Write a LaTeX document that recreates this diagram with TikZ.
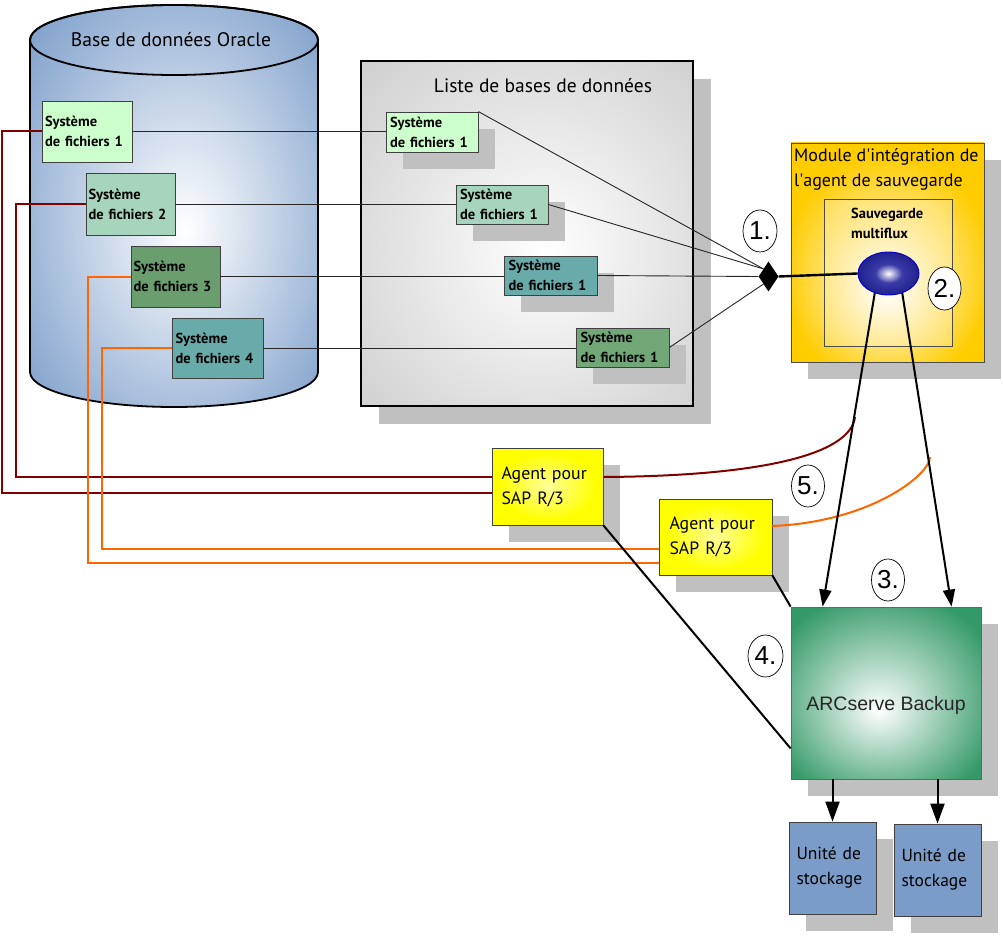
\documentclass[tikz,border=0pt]{standalone}
\usepackage{fontspec}
\setmainfont{PT Sans}
\newfontfamily\arialf{Liberation Sans}
\usetikzlibrary{shapes.geometric,shadows,calc,arrows.meta}
\definecolor{cylblue}{HTML}{7A9CC9}
\definecolor{listgray}{HTML}{C8C8C8}
\definecolor{shadowgray}{HTML}{C0C0C0}
\definecolor{modyel}{HTML}{FFCC00}
\definecolor{arcgreen}{HTML}{339966}
\definecolor{ballblue}{HTML}{10107A}
\definecolor{ballmid}{HTML}{3A3AA8}
\definecolor{fsA}{HTML}{CCFFCC}
\definecolor{fsB}{HTML}{A6D4BC}
\definecolor{fsC}{HTML}{6A9E6E}
\definecolor{fsD}{HTML}{69AAAA}
\definecolor{fsE}{HTML}{72A878}
\definecolor{darkred}{HTML}{800000}
\definecolor{orng}{HTML}{FF6600}
\definecolor{stblue}{HTML}{7B9CC8}
\definecolor{agcenter}{HTML}{FFFF99}
\pgfdeclareradialshading{cylsh}{\pgfpoint{2bp}{-3bp}}{color(0bp)=(white); color(36bp)=(cylblue); color(50bp)=(cylblue)}
\pgfdeclareradialshading{listsh}{\pgfpoint{3bp}{-3bp}}{color(0bp)=(white); color(42bp)=(listgray); color(50bp)=(listgray)}
\pgfdeclareradialshading{modsh}{\pgfpoint{0bp}{-9bp}}{color(0bp)=(white); color(27bp)=(modyel); color(50bp)=(modyel)}
\pgfdeclareradialshading{arcsh}{\pgfpoint{-2bp}{-5bp}}{color(0bp)=(white); color(32bp)=(arcgreen); color(50bp)=(arcgreen)}
\pgfdeclareradialshading{ballsh}{\pgfpoint{0bp}{0bp}}{color(0bp)=(white); color(11bp)=(ballmid); color(36bp)=(ballblue); color(50bp)=(ballblue)}
\pgfdeclareradialshading{agsh}{\pgfpoint{0bp}{0bp}}{color(0bp)=(agcenter); color(22bp)=(yellow); color(50bp)=(yellow)}
\newcommand\myfsfont{\fontsize{14.5}{20}\selectfont\bfseries}
\tikzset{
  shd/.style={drop shadow={shadow xshift=#1, shadow yshift=-#1, fill=shadowgray, draw=none, opacity=1}},
  shd/.default=17pt,
  fsbox/.style={draw=black!75, line width=0.8pt, font=\myfsfont, align=left, text width=84pt, inner xsep=2pt, inner ysep=0pt},
  agentbox/.style={draw=black!75, line width=0.8pt, shading=agsh, shd, font=\fontsize{17.8}{25}\selectfont, align=left, text width=92pt, inner xsep=0pt, inner ysep=0pt},
  stbox/.style={draw=black!75, line width=0.8pt, fill=stblue, shd, font=\fontsize{17.5}{25}\selectfont, align=left, text width=72pt, inner xsep=0pt, inner ysep=0pt, minimum width=87, minimum height=92},
  numc/.style={ellipse, draw=black, line width=0.7pt, fill=white, minimum width=34, minimum height=42, inner sep=0pt, font=\arialf\fontsize{26}{26}\selectfont},
  thinl/.style={draw=black!85, line width=0.9pt},
  redl/.style={draw=darkred, line width=2pt},
  orl/.style={draw=orng, line width=2pt},
  blk/.style={draw=black, line width=2pt},
  arr/.style={draw=black, line width=2pt, -{Triangle[width=12pt,length=17pt]}},
  arrb/.style={draw=black, line width=2pt, -{Triangle[width=14pt,length=20pt]}},
}
\begin{document}
\begin{tikzpicture}[x=1pt,y=-1pt]
\useasboundingbox (0,0) rectangle (1003,936);
% Oracle cylinder
\shade[shading=cylsh] (30,40) -- (30,372) arc[start angle=180, end angle=0, x radius=144, y radius=35] -- (318,40) arc[start angle=0, end angle=-180, x radius=144, y radius=35] -- cycle;
\draw[line width=1.8pt] (30,40) -- (30,372) arc[start angle=180, end angle=0, x radius=144, y radius=35] -- (318,40) arc[start angle=0, end angle=-180, x radius=144, y radius=35] -- cycle;
\draw[line width=1.8pt] (174,40) ellipse[x radius=144, y radius=35];
\node[font=\fontsize{19.6}{22}\selectfont] (cyltitle) at (171,40) {Base de données Oracle};
\node[fsbox, fill=fsA, minimum width=90, minimum height=61] (cfs1) at (87,131.5) {Système\\de fichiers 1};
\node[fsbox, fill=fsB, minimum width=89, minimum height=62] (cfs2) at (130.5,204) {Système\\de fichiers 2};
\node[fsbox, fill=fsC, minimum width=89, minimum height=61] (cfs3) at (175.5,276.5) {Système\\de fichiers 3};
\node[fsbox, fill=fsD, minimum width=91, minimum height=60] (cfs4) at (217.5,348) {Système\\de fichiers 4};
% database list
\node[draw=black, line width=2.2pt, shading=listsh, shd=18pt, minimum width=332, minimum height=345] (lst) at (527,233.5) {};
\node[font=\fontsize{19.5}{22}\selectfont] (lsttitle) at (543,86) {Liste de bases de données};
\node[fsbox, fill=fsA, shd, minimum width=92, minimum height=40] (lfs1) at (432,132) {Système\\de fichiers 1};
\node[fsbox, fill=fsB, shd, minimum width=92, minimum height=39] (lfs2) at (502,204.5) {Système\\de fichiers 1};
\node[fsbox, fill=fsD, shd, minimum width=93, minimum height=39] (lfs3) at (550.5,275.5) {Système\\de fichiers 1};
\node[fsbox, fill=fsE, shd, minimum width=93, minimum height=39] (lfs4) at (622.5,347.5) {Système\\de fichiers 1};
% module
\node[draw=black!70, line width=0.8pt, shading=modsh, shd, minimum width=193, minimum height=219] (mod) at (887.5,252.5) {};
\node[anchor=north west, font=\fontsize{18}{25}\selectfont, align=left, inner sep=0pt] (modt) at (794,148) {Module d\textquotesingle intégration de\\l\textquotesingle agent de sauvegarde};
\node[draw=black!70, line width=0.8pt, fill=white, fill opacity=0.25, minimum width=128, minimum height=147] (inner) at (888,272.5) {};
\node[anchor=north west, font=\myfsfont, align=left, inner sep=0pt] (mft) at (851,208) {Sauvegarde\\multiflux};
\node[ellipse, draw=blue!80!black, line width=0.9pt, shading=ballsh, minimum width=61, minimum height=43, inner sep=0pt] (ball) at (888.5,273.5) {};
% connectors file systems
\draw[thinl] (cfs1.east) -- (cfs1.east -| lfs1.west);
\draw[thinl] (cfs2.east) -- (cfs2.east -| lfs2.west);
\draw[thinl] (cfs3.east) -- (cfs3.east -| lfs3.west);
\draw[thinl] (cfs4.east) -- (cfs4.east -| lfs4.west);
\node[diamond, fill=black, minimum width=20, minimum height=30, inner sep=0pt] (jn) at (768.5,276.5) {};
\draw[thinl] (lfs1.north east) -- (jn.north west);
\draw[thinl] (lfs2.east) -- (jn.north west);
\draw[thinl] (lfs3.east) -- (jn.west);
\draw[thinl] (lfs4.east) -- (jn.south west);
\draw[line width=2.4pt] (jn.east) -- (ball.west);
% agents, ARCserve, storage
\node[agentbox, minimum width=111, minimum height=77] (ag1) at (547.5,486.5) {Agent pour\\SAP R/3};
\node[agentbox, minimum width=113, minimum height=76] (ag2) at (715.5,537) {Agent pour\\SAP R/3};
\node[draw=black!60, line width=0.8pt, shading=arcsh, shd, minimum width=190, minimum height=172] (arc) at (886,693) {};
\node[font=\arialf\fontsize{19.5}{22}\selectfont, text=black!85] (arct) at (886,705) {ARCserve Backup};
\node[stbox] (st1) at (832.5,868) {Unité de\\stockage};
\node[stbox] (st2) at (937.5,870) {Unité de\\stockage};
% coloured links
\draw[redl] (cfs1.west) -- ++(-40,0) |- ($(ag1.west)+(0,6.5)$);
\draw[redl] (cfs2.west) -- ++(-70,0) |- ($(ag1.west)+(0,-9.5)$);
\draw[orl] (cfs3.west) -- ++(-43,0) |- ($(ag2.west)+(0,26)$);
\draw[orl] (cfs4.west) -- ++(-70,0) |- ($(ag2.west)+(0,12)$);
\coordinate (rc) at (855,417);
\coordinate (oc) at (930,457);
\draw[redl] ($(ag1.east)+(0,-9.5)$) .. controls (760,476) and (850,455) .. (rc);
\draw[orl] ($(ag2.east)+(0,-11)$) .. controls (870,522) and (930,475) .. (oc);
% black links
\draw[blk] (ag1.south east) -- ($(arc.south west)+(0,-31)$);
\draw[blk] (ag2.south east) -- (arc.north west);
\draw[arr] (ball.235) -- ($(arc.north west)+(32,0)$);
\draw[arr] (ball.-55) -- ($(arc.north west)+(161,0)$);
\draw[arrb] (arc.south -| st1.north) -- (st1.north);
\draw[arrb] (arc.south -| st2.north) -- (st2.north);
% step numbers
\node[numc] (n1) at (760,231) {1.};
\node[numc, minimum width=33, minimum height=43] (n2) at (944.5,288.5) {2.};
\node[numc, minimum width=33] (n3) at (888,580) {3.};
\node[numc, minimum width=35] (n4) at (765.5,656) {4.};
\node[numc, minimum width=33] (n5) at (808,486) {5.};
\end{tikzpicture}
\end{document}
